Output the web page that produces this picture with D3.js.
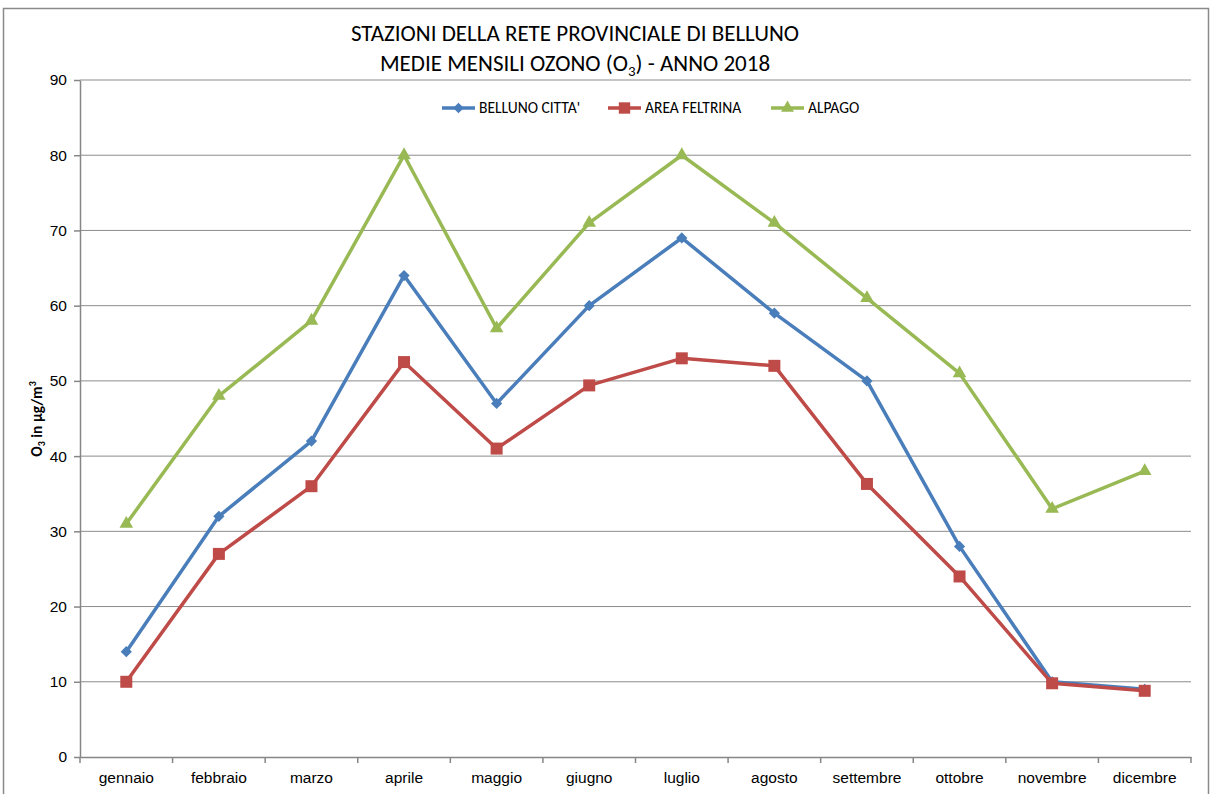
<!DOCTYPE html>
<html lang="it">
<head>
<meta charset="UTF-8">
<title>Medie mensili ozono 2018</title>
<script src="https://d3js.org/d3.v7.min.js"></script>
<style>
  body { margin: 0; background: #fff; }
  svg { font-family: Calibri, Carlito, "Open Sans", "Noto Sans", sans-serif; }
  .grid line { stroke: #8c8c8c; stroke-width: 1; }
  .axis path, .axis line { stroke: #868686; stroke-width: 1.5; }
  .axis text { fill: #000; font-size: 15.5px; }
</style>
</head>
<body>
<svg width="1210" height="794"></svg>
<script>
  // dati
  const mesi = ["gennaio", "febbraio", "marzo", "aprile", "maggio", "giugno",
                "luglio", "agosto", "settembre", "ottobre", "novembre", "dicembre"];
  const bellunoCitta = [14, 32, 42, 64, 47, 60, 69, 59, 50, 28, 10, 9];
  const areaFeltrina = [10, 27, 36, 52.5, 41, 49.4, 53, 52, 36.3, 24, 9.8, 8.8];
  const alpago = [31, 48, 58, 80, 57, 71, 80, 71, 61, 51, 33, 38];
  const yTicks = [0, 10, 20, 30, 40, 50, 60, 70, 80, 90];

  const serie = [
    { nome: "BELLUNO CITTA'", valori: bellunoCitta, colore: "#4a7ebb", simbolo: d3.symbolDiamond2, area: 80 },
    { nome: "AREA FELTRINA", valori: areaFeltrina, colore: "#be4b48", simbolo: d3.symbolSquare, area: 144 },
    { nome: "ALPAGO", valori: alpago, colore: "#98b954", simbolo: d3.symbolTriangle, area: 80 }
  ];

  const svg = d3.select("svg");
  const pLeft = 80, pRight = 1191, pTop = 80, pBottom = 757;

  // bordo esterno
  svg.append("rect")
    .attr("x", 3.5).attr("y", 8.5)
    .attr("width", 1205).attr("height", 800)
    .attr("fill", "#fff").attr("stroke", "#8a8a8a").attr("stroke-width", 1.5);

  const x = d3.scaleBand().domain(mesi).range([pLeft, pRight]);
  const y = d3.scaleLinear().domain([0, 90]).range([pBottom, pTop]);

  // griglia
  svg.append("g").attr("class", "grid")
    .selectAll("line").data(yTicks.filter(d => d > 0)).join("line")
    .attr("x1", pLeft).attr("x2", pRight)
    .attr("y1", d => y(d)).attr("y2", d => y(d));

  // asse y
  const yAxis = svg.append("g").attr("class", "axis")
    .attr("transform", `translate(${pLeft},0)`)
    .call(d3.axisLeft(y).tickValues(yTicks).tickSize(6).tickSizeOuter(0));
  yAxis.selectAll("text").attr("dx", "-4");

  // asse x (tacche ai confini delle categorie)
  const xAxis = svg.append("g").attr("class", "axis")
    .attr("transform", `translate(0,${pBottom})`)
    .call(d3.axisBottom(x).tickSize(0).tickSizeOuter(0));
  xAxis.selectAll("text").attr("dy", "1.5em");
  xAxis.selectAll(".bound").data(d3.range(mesi.length + 1)).join("line")
    .attr("class", "bound")
    .attr("x1", i => pLeft + i * x.step()).attr("x2", i => pLeft + i * x.step())
    .attr("y1", 0).attr("y2", 6);

  // linee e marcatori
  const linea = d3.line()
    .x((d, i) => x(mesi[i]) + x.bandwidth() / 2)
    .y(d => y(d));

  serie.forEach(s => {
    svg.append("path")
      .attr("d", linea(s.valori))
      .attr("fill", "none")
      .attr("stroke", s.colore)
      .attr("stroke-width", 3.5)
      .attr("stroke-linejoin", "round");
    svg.append("g").selectAll("path").data(s.valori).join("path")
      .attr("transform", (d, i) => `translate(${x(mesi[i]) + x.bandwidth() / 2},${y(d)})`)
      .attr("d", d3.symbol().type(s.simbolo).size(s.area))
      .attr("fill", s.colore);
  });

  // titolo
  const titolo = svg.append("text")
    .attr("text-anchor", "middle")
    .attr("font-size", "23px")
    .attr("fill", "#000");
  titolo.append("tspan").attr("x", 575).attr("y", 41)
    .text("STAZIONI DELLA RETE PROVINCIALE DI BELLUNO");
  const t2 = titolo.append("tspan").attr("x", 575).attr("y", 71);
  t2.append("tspan").text("MEDIE MENSILI OZONO (O");
  t2.append("tspan").attr("font-size", "15px").attr("dy", "5").text("3");
  t2.append("tspan").attr("dy", "-5").text(") - ANNO 2018");

  // etichetta asse y
  const yl = svg.append("text")
    .attr("transform", "translate(42,419) rotate(-90)")
    .attr("text-anchor", "middle")
    .attr("font-size", "15.5px")
    .attr("font-weight", "bold");
  yl.append("tspan").text("O");
  yl.append("tspan").attr("font-size", "10px").attr("dy", "3").text("3");
  yl.append("tspan").attr("dy", "-3").text(" in  µg/m");
  yl.append("tspan").attr("font-size", "10px").attr("dy", "-6").text("3");

  // legenda
  const legX = [442, 608, 771];
  const leg = svg.append("g").selectAll("g").data(serie).join("g")
    .attr("transform", (d, i) => `translate(${legX[i]},108)`);
  leg.append("line")
    .attr("x1", 0).attr("x2", 33)
    .attr("stroke", d => d.colore).attr("stroke-width", 3.5);
  leg.append("path")
    .attr("transform", "translate(16.5,0)")
    .attr("d", d => d3.symbol().type(d.simbolo).size(d.area * 0.9)())
    .attr("fill", d => d.colore);
  leg.append("text")
    .attr("x", 37).attr("dy", "0.35em")
    .attr("font-size", "15.5px")
    .text(d => d.nome);
</script>
</body>
</html>
